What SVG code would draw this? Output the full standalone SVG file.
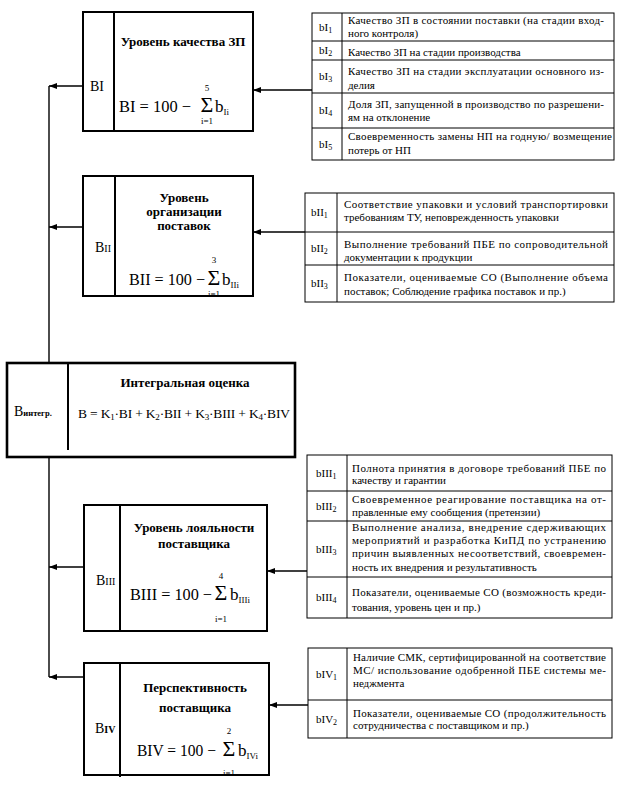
<svg xmlns="http://www.w3.org/2000/svg" width="623" height="789" viewBox="0 0 623 789" font-family="'Liberation Serif', 'Times New Roman', 'DejaVu Serif', serif">
<defs>
<style>
text{font-family:"Liberation Serif","Times New Roman","DejaVu Serif",serif;fill:#000}
.box{fill:#fff;stroke:#000;stroke-width:2}
.bigbox{fill:#fff;stroke:#000;stroke-width:2.6}
.div{stroke:#000;stroke-width:2}
.tbl{fill:#fff;stroke:#000;stroke-width:1}
.rl{stroke:#000;stroke-width:1}
.con{stroke:#000;stroke-width:1.4;fill:none}
.t{font-size:11px}
.lab{font-size:11px}
.sb{font-size:8px}
.ttl{font-size:13px;font-weight:bold;text-anchor:middle}
.f{font-size:17px}
.sig{font-size:22px;text-anchor:middle}
.lim{font-size:9px;text-anchor:middle}
.fs{font-size:9px}
.bl{font-size:14px}
.bls{font-size:10px}
</style>
<marker id="ah" markerUnits="userSpaceOnUse" markerWidth="8" markerHeight="6" refX="8" refY="3" orient="auto">
<path d="M0,0 L8,3 L0,6 z" fill="#000"/>
</marker>
</defs>
<rect width="623" height="789" fill="#fff"/>

<g id="connectors">
<line class="con" x1="49" y1="86" x2="49" y2="363"/>
<line class="con" x1="49" y1="457" x2="49" y2="677"/>
<line class="con" x1="83" y1="86" x2="49" y2="86" marker-end="url(#ah)"/>
<line class="con" x1="83" y1="227" x2="49" y2="227" marker-end="url(#ah)"/>
<line class="con" x1="84" y1="567" x2="49" y2="567" marker-end="url(#ah)"/>
<line class="con" x1="84" y1="677" x2="49" y2="677" marker-end="url(#ah)"/>
<line class="con" x1="312" y1="90" x2="253" y2="90" marker-end="url(#ah)"/>
<line class="con" x1="305" y1="232" x2="253" y2="232" marker-end="url(#ah)"/>
<line class="con" x1="307" y1="571" x2="267" y2="571" marker-end="url(#ah)"/>
<line class="con" x1="308" y1="705" x2="269" y2="705" marker-end="url(#ah)"/>
</g>

<g id="node-BI">
<rect class="box" x="83" y="12" width="170" height="119"/>
<line class="div" x1="114" y1="12" x2="114" y2="131"/>
<text class="bl" x="90" y="91">BI</text>
<text class="ttl" x="183" y="46">Уровень качества ЗП</text>
<text class="f" x="119" y="112" textLength="72" lengthAdjust="spacingAndGlyphs">BI = 100 −</text>
<text class="sig" x="207" y="112">Σ</text>
<text class="lim" x="207" y="91">5</text>
<text class="lim" x="207" y="124">i=1</text>
<text class="f" x="215" y="112">b<tspan class="fs" dy="3">Ii</tspan></text>
</g>

<g id="node-BII">
<rect class="box" x="83" y="176" width="170" height="120"/>
<line class="div" x1="115" y1="176" x2="115" y2="296"/>
<text class="bl" x="95" y="252">B<tspan class="bls">II</tspan></text>
<text class="ttl" x="184" y="202">Уровень</text>
<text class="ttl" x="184" y="216">организации</text>
<text class="ttl" x="184" y="230">поставок</text>
<text class="f" x="129" y="285" textLength="76" lengthAdjust="spacingAndGlyphs">BII = 100 −</text>
<text class="sig" x="214" y="285">Σ</text>
<text class="lim" x="214" y="263">3</text>
<text class="lim" x="214" y="297">i=1</text>
<text class="f" x="222" y="285">b<tspan class="fs" dy="3">IIi</tspan></text>
</g>

<g id="node-Bint">
<rect class="bigbox" x="7" y="363" width="288" height="94"/>
<line class="div" x1="68" y1="363" x2="68" y2="450"/>
<text x="14" y="416"><tspan class="bl">B</tspan><tspan style="font-size:8.5px;font-weight:bold">интегр.</tspan></text>
<text class="ttl" x="185" y="387">Интегральная оценка</text>
<text x="78" y="418" style="font-size:13.5px" textLength="212" lengthAdjust="spacing">B = K<tspan class="fs" dy="2">1</tspan><tspan dy="-2">·BI + K</tspan><tspan class="fs" dy="2">2</tspan><tspan dy="-2">·BII + K</tspan><tspan class="fs" dy="2">3</tspan><tspan dy="-2">·BIII + K</tspan><tspan class="fs" dy="2">4</tspan><tspan dy="-2">·BIV</tspan></text>
</g>

<g id="node-BIII">
<rect class="box" x="84" y="505" width="183" height="126"/>
<line class="div" x1="120" y1="505" x2="120" y2="631"/>
<text class="bl" x="96" y="585">B<tspan class="bls">III</tspan></text>
<text class="ttl" x="194" y="532">Уровень лояльности</text>
<text class="ttl" x="194" y="548">поставщика</text>
<text class="f" x="130" y="600" textLength="82" lengthAdjust="spacingAndGlyphs">BIII = 100 −</text>
<text class="sig" x="221" y="600">Σ</text>
<text class="lim" x="221" y="579">4</text>
<text class="lim" x="221" y="622">i=1</text>
<text class="f" x="230" y="600">b<tspan class="fs" dy="3">IIIi</tspan></text>
</g>

<g id="node-BIV">
<rect class="box" x="84" y="663" width="185" height="112"/>
<line class="div" x1="120" y1="663" x2="120" y2="777"/>
<text class="bl" x="95" y="733">B<tspan class="bls" style="font-weight:bold">IV</tspan></text>
<text class="ttl" x="195" y="692">Перспективность</text>
<text class="ttl" x="195" y="712">поставщика</text>
<text class="f" x="137" y="756" textLength="79" lengthAdjust="spacingAndGlyphs">BIV = 100 −</text>
<text class="sig" x="229" y="756">Σ</text>
<text class="lim" x="229" y="734">2</text>
<text class="lim" x="229" y="776">i=1</text>
<text class="f" x="238" y="756">b<tspan class="fs" dy="3">IVi</tspan></text>
</g>

<g id="table-bI">
<rect class="tbl" x="312" y="13" width="302" height="147"/>
<line class="rl" x1="342" y1="13" x2="342" y2="160"/>
<line class="rl" x1="312" y1="41" x2="614" y2="41"/>
<line class="rl" x1="312" y1="60" x2="614" y2="60"/>
<line class="rl" x1="312" y1="93" x2="614" y2="93"/>
<line class="rl" x1="312" y1="128" x2="614" y2="128"/>
<text class="lab" x="319" y="31">bI<tspan class="sb" dy="2">1</tspan></text>
<text class="lab" x="319" y="54">bI<tspan class="sb" dy="2">2</tspan></text>
<text class="lab" x="319" y="80">bI<tspan class="sb" dy="2">3</tspan></text>
<text class="lab" x="319" y="114">bI<tspan class="sb" dy="2">4</tspan></text>
<text class="lab" x="319" y="148">bI<tspan class="sb" dy="2">5</tspan></text>
<text class="t" x="348" y="24" textLength="256" lengthAdjust="spacing">Качество ЗП в состоянии поставки (на стадии вход-</text>
<text class="t" x="348" y="37">ного контроля)</text>
<text class="t" x="348" y="56">Качество ЗП на стадии производства</text>
<text class="t" x="348" y="75" textLength="256" lengthAdjust="spacing">Качество ЗП на стадии эксплуатации основного из-</text>
<text class="t" x="348" y="89">делия</text>
<text class="t" x="348" y="108" textLength="256" lengthAdjust="spacing">Доля ЗП, запущенной в производство по разрешени-</text>
<text class="t" x="348" y="121">ям на отклонение</text>
<text class="t" x="348" y="140" textLength="264" lengthAdjust="spacing">Своевременность замены НП на годную/ возмещение</text>
<text class="t" x="348" y="154">потерь от НП</text>
</g>

<g id="table-bII">
<rect class="tbl" x="305" y="193" width="309" height="109"/>
<line class="rl" x1="337" y1="193" x2="337" y2="302"/>
<line class="rl" x1="305" y1="232" x2="614" y2="232"/>
<line class="rl" x1="305" y1="265" x2="614" y2="265"/>
<text class="lab" x="311" y="216">bII<tspan class="sb" dy="2">1</tspan></text>
<text class="lab" x="311" y="252">bII<tspan class="sb" dy="2">2</tspan></text>
<text class="lab" x="311" y="287">bII<tspan class="sb" dy="2">3</tspan></text>
<text class="t" x="344" y="208" textLength="264" lengthAdjust="spacing">Соответствие упаковки и условий транспортировки</text>
<text class="t" x="344" y="221">требованиям ТУ, неповрежденность упаковки</text>
<text class="t" x="344" y="248" textLength="264" lengthAdjust="spacing">Выполнение требований ПБЕ по сопроводительной</text>
<text class="t" x="344" y="261">документации к продукции</text>
<text class="t" x="344" y="281" textLength="264" lengthAdjust="spacing">Показатели, оцениваемые СО (Выполнение объема</text>
<text class="t" x="344" y="295">поставок; Соблюдение графика поставок и пр.)</text>
</g>

<g id="table-bIII">
<rect class="tbl" x="307" y="455" width="305" height="163"/>
<line class="rl" x1="347" y1="455" x2="347" y2="618"/>
<line class="rl" x1="307" y1="491" x2="612" y2="491"/>
<line class="rl" x1="307" y1="521" x2="612" y2="521"/>
<line class="rl" x1="307" y1="577" x2="612" y2="577"/>
<text class="lab" x="316" y="477">bIII<tspan class="sb" dy="2">1</tspan></text>
<text class="lab" x="316" y="510">bIII<tspan class="sb" dy="2">2</tspan></text>
<text class="lab" x="316" y="553">bIII<tspan class="sb" dy="2">3</tspan></text>
<text class="lab" x="316" y="601">bIII<tspan class="sb" dy="2">4</tspan></text>
<text class="t" x="352" y="472" textLength="254" lengthAdjust="spacing">Полнота принятия в договоре требований ПБЕ по</text>
<text class="t" x="352" y="484">качеству и гарантии</text>
<text class="t" x="352" y="503" textLength="254" lengthAdjust="spacing">Своевременное реагирование поставщика на от-</text>
<text class="t" x="352" y="516">правленные ему сообщения (претензии)</text>
<text class="t" x="352" y="531" textLength="254" lengthAdjust="spacing">Выполнение анализа, внедрение сдерживающих</text>
<text class="t" x="352" y="544" textLength="254" lengthAdjust="spacing">мероприятий и разработка КиПД по устранению</text>
<text class="t" x="352" y="557" textLength="254" lengthAdjust="spacing">причин выявленных несоответствий, своевремен-</text>
<text class="t" x="352" y="571">ность их внедрения и результативность</text>
<text class="t" x="352" y="596" textLength="254" lengthAdjust="spacing">Показатели, оцениваемые СО (возможность креди-</text>
<text class="t" x="352" y="611">тования, уровень цен  и пр.)</text>
</g>

<g id="table-bIV">
<rect class="tbl" x="308" y="648" width="304" height="90"/>
<line class="rl" x1="347" y1="648" x2="347" y2="738"/>
<line class="rl" x1="308" y1="700" x2="612" y2="700"/>
<text class="lab" x="316" y="678">bIV<tspan class="sb" dy="2">1</tspan></text>
<text class="lab" x="316" y="723">bIV<tspan class="sb" dy="2">2</tspan></text>
<text class="t" x="353" y="661" textLength="253" lengthAdjust="spacing">Наличие СМК, сертифицированной на соответствие</text>
<text class="t" x="353" y="674" textLength="253" lengthAdjust="spacing">МС/ использование одобренной ПБЕ системы ме-</text>
<text class="t" x="353" y="687">неджмента</text>
<text class="t" x="353" y="717" textLength="253" lengthAdjust="spacing">Показатели, оцениваемые СО (продолжительность</text>
<text class="t" x="353" y="729">сотрудничества с поставщиком и пр.)</text>
</g>
</svg>
